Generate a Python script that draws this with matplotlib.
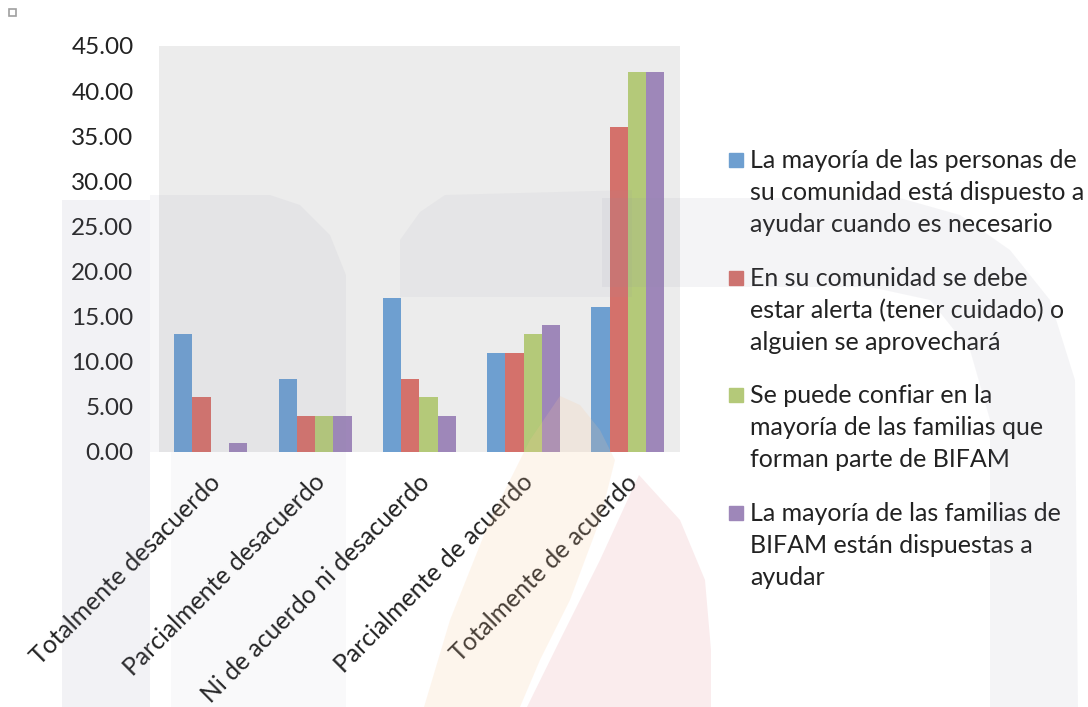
import numpy as np
import matplotlib
matplotlib.use('Agg')
import matplotlib.pyplot as plt
from matplotlib.patches import Polygon, Rectangle
from matplotlib.transforms import ScaledTranslation

plt.rcParams['font.family'] = ['Lato', 'DejaVu Sans']

# ---------------------------------------------------------
# datos
# ---------------------------------------------------------
categorias = ['Totalmente desacuerdo', 'Parcialmente desacuerdo',
              'Ni de acuerdo ni desacuerdo', 'Parcialmente de acuerdo',
              'Totalmente de acuerdo']

series = [
    'La mayoría de las personas de\nsu comunidad está dispuesto a\nayudar cuando es necesario',
    'En su comunidad se debe\nestar alerta (tener cuidado) o\nalguien se aprovechará',
    'Se puede confiar en la\nmayoría de las familias que\nforman parte de BIFAM',
    'La mayoría de las familias de\nBIFAM están dispuestas a\nayudar',
]

comunidad_ayuda = [13.1, 8.1, 17.1, 11.0, 16.1]
estar_alerta = [6.1, 4.0, 8.1, 11.0, 36.0]
confiar_familias = [0.0, 4.0, 6.1, 13.1, 42.1]
familias_ayudan = [1.0, 4.0, 4.0, 14.1, 42.1]

valores = [comunidad_ayuda, estar_alerta, confiar_familias, familias_ayudan]
colores = ['#6E9FD0', '#D4716B', '#B4C979', '#9E87B9']

W, H = 1088, 707
fig = plt.figure(figsize=(W / 100, H / 100), dpi=100)


def px(x, y):
    # pixeles (origen arriba-izquierda) -> fracción de figura
    return (x / W, 1 - y / H)


ax = fig.add_axes([158.6 / W, 1 - 452 / H, (680 - 158.6) / W, (452 - 46) / H])
ax.set_facecolor('#ECECEC')

x = np.arange(len(categorias))
ancho = 0.175
for k, (vals, col) in enumerate(zip(valores, colores)):
    ax.bar(x + (k - 1.5) * ancho, vals, ancho, color=col, zorder=2)

ax.set_xlim(-0.5, len(categorias) - 0.5)
ax.set_ylim(0, 45)
ax.set_yticks(np.arange(0, 46, 5))
ax.set_yticklabels([f'{v:.2f}' for v in np.arange(0, 46, 5)], fontsize=17.5, color='#222222')
ax.tick_params(axis='y', length=0, pad=18)
ax.set_xticks(x)
ax.set_xticklabels(categorias, fontsize=17.8, rotation=45, ha='right', va='center',
                   rotation_mode='anchor', color='#222222')
ax.tick_params(axis='x', length=0, pad=19)
desplaz = ScaledTranslation(6 / 100, 0, fig.dpi_scale_trans)
for lab in ax.get_xticklabels():
    lab.set_transform(lab.get_transform() + desplaz)
for s in ax.spines.values():
    s.set_visible(False)

# leyenda manual
y0 = 149
for k, (nombre, col) in enumerate(zip(series, colores)):
    yy = y0 + k * 117.7
    fig.patches.append(Rectangle(px(729, yy + 18), 14 / W, 14 / H, color=col,
                                 transform=fig.transFigure, figure=fig))
    fig.text(*px(750, yy), nombre, fontsize=18, va='top', ha='left',
             linespacing=1.47, color='#222222')

# marca de agua (aproximada)
gris = '#8E8EA6'
formas = [
    ([(62, 200), (150, 200), (150, 707), (62, 707)], gris, 0.11),
    ([(150, 195), (270, 195), (300, 205), (330, 235), (346, 275), (346, 452), (150, 452)], gris, 0.08),
    ([(171, 452), (346, 452), (346, 707), (171, 707)], gris, 0.05),
    ([(400, 297), (400, 240), (420, 212), (445, 195), (632, 190), (632, 297)], gris, 0.07),
    ([(602, 198), (900, 198), (960, 215), (1010, 250), (1050, 300), (1075, 380),
      (1078, 707), (990, 707), (990, 420), (970, 350), (930, 300), (870, 287), (602, 287)], gris, 0.09),
    ([(424, 707), (450, 620), (490, 520), (530, 440), (560, 396), (580, 405), (600, 430),
      (615, 460), (600, 520), (570, 600), (540, 660), (520, 707)], '#F9C89A', 0.18),
    ([(639, 475), (680, 520), (705, 580), (711, 650), (711, 707), (527, 707),
      (560, 640), (600, 560)], '#E8A0A8', 0.2),
]
for pts, col, a in formas:
    fig.patches.append(Polygon([px(*p) for p in pts], closed=True, color=col, alpha=a,
                               lw=0, transform=fig.transFigure, figure=fig, zorder=10))

fig.patches.append(Rectangle(px(9, 16), 7 / W, 7 / H, fill=False, ec='#A0A0A0', lw=1.2,
                             transform=fig.transFigure, figure=fig))

fig.savefig('out.png', dpi=100)
